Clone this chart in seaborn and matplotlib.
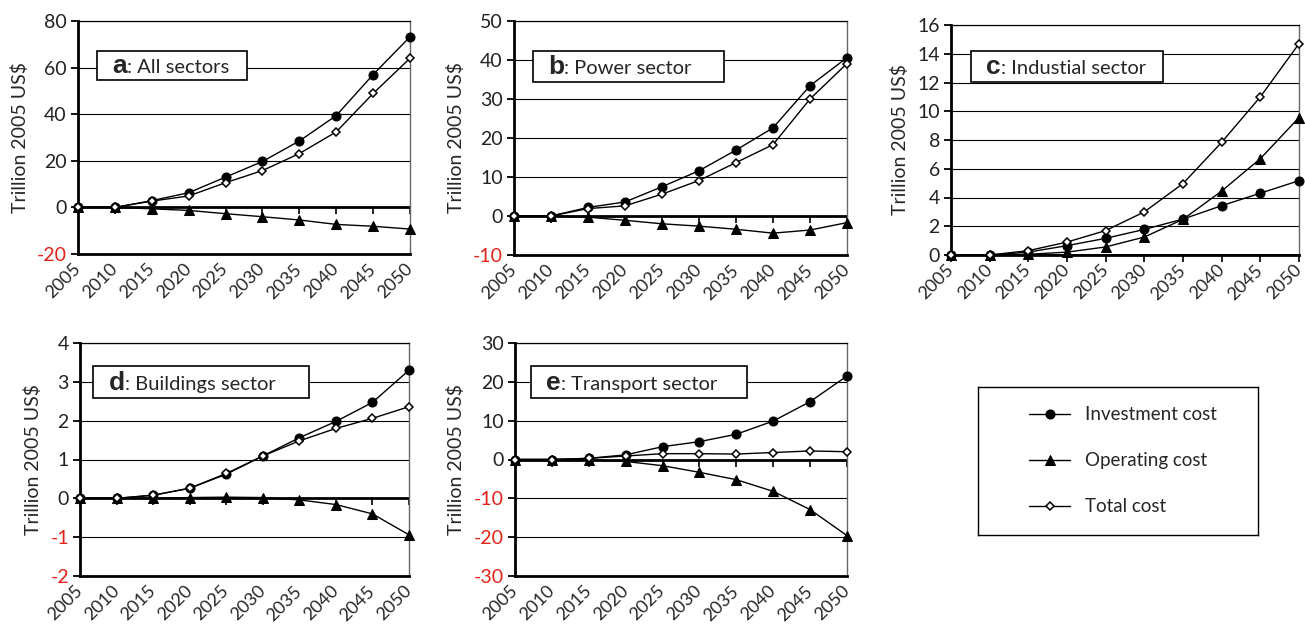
import numpy as np
import pandas as pd
import matplotlib
matplotlib.use("Agg")
import matplotlib.pyplot as plt
import seaborn as sns
from matplotlib.patches import Rectangle

sns.set_theme(style="white")
plt.rcParams['font.family'] = ['Lato', 'DejaVu Sans']

years = [2005, 2010, 2015, 2020, 2025, 2030, 2035, 2040, 2045, 2050]

# All sectors
all_invest = [0, 0, 2.9, 6.3, 13.0, 19.7, 28.5, 39.4, 57.0, 73.2]
all_operate = [0, 0, -0.6, -1.3, -2.7, -4.0, -5.4, -7.3, -8.1, -9.3]
all_total = [0, 0, 2.7, 4.9, 10.6, 15.8, 23.1, 32.4, 48.9, 64.0]

# Power sector
pow_invest = [0, 0, 2.2, 3.6, 7.5, 11.6, 16.9, 22.6, 33.4, 40.6]
pow_operate = [0, 0, -0.3, -1.1, -2.0, -2.6, -3.4, -4.4, -3.6, -1.7]
pow_total = [0, 0, 1.9, 2.6, 5.6, 9.1, 13.7, 18.3, 30.0, 39.1]

# Industrial sector
ind_invest = [0, 0, 0.2, 0.65, 1.16, 1.78, 2.5, 3.43, 4.3, 5.17]
ind_operate = [0, 0, 0.05, 0.2, 0.56, 1.25, 2.48, 4.45, 6.7, 9.56]
ind_total = [0, 0, 0.3, 0.9, 1.7, 3.0, 4.97, 7.84, 11.0, 14.7]

# Buildings sector
bld_invest = [0, 0, 0.08, 0.26, 0.62, 1.09, 1.56, 1.98, 2.47, 3.3]
bld_operate = [0, 0, 0.0, 0.02, 0.03, 0.02, -0.04, -0.16, -0.4, -0.94]
bld_total = [0, 0, 0.08, 0.26, 0.64, 1.09, 1.48, 1.8, 2.06, 2.36]

# Transport sector
trn_invest = [0, 0, 0.3, 1.2, 3.3, 4.6, 6.5, 9.9, 14.9, 21.5]
trn_operate = [0, 0, -0.1, -0.5, -1.6, -3.3, -5.2, -8.2, -12.9, -19.6]
trn_total = [0, 0, 0.3, 0.9, 1.5, 1.5, 1.4, 1.8, 2.2, 2.0]

series_labels = ["Investment cost", "Operating cost", "Total cost"]

W, H = 1305, 626
fig = plt.figure(figsize=(W / 100, H / 100), dpi=100)


def rect_px(left, top, right, bottom):
    return [left / W, (H - bottom) / H, (right - left) / W, (bottom - top) / H]


panels = [
    dict(rect=rect_px(78, 21, 410, 254), letter="a", title=": All sectors",
         data=(all_invest, all_operate, all_total), yticks=np.arange(-20, 81, 20),
         box=(0.057, 0.747, 0.509, 0.871)),
    dict(rect=rect_px(514, 21, 847, 255), letter="b", title=": Power sector",
         data=(pow_invest, pow_operate, pow_total), yticks=np.arange(-10, 51, 10),
         box=(0.057, 0.739, 0.630, 0.872)),
    dict(rect=rect_px(951, 25, 1299, 255), letter="c", title=": Industial sector",
         data=(ind_invest, ind_operate, ind_total), yticks=np.arange(0, 17, 2),
         box=(0.057, 0.752, 0.609, 0.887)),
    dict(rect=rect_px(80, 343, 409, 576), letter="d", title=": Buildings sector",
         data=(bld_invest, bld_operate, bld_total), yticks=np.arange(-2, 5, 1),
         box=(0.040, 0.765, 0.696, 0.900)),
    dict(rect=rect_px(515, 343, 847, 576), letter="e", title=": Transport sector",
         data=(trn_invest, trn_operate, trn_total), yticks=np.arange(-30, 31, 10),
         box=(0.048, 0.765, 0.700, 0.900)),
]

marker_styles = [
    dict(marker="o", markersize=6.5, markerfacecolor="black", markeredgecolor="black"),
    dict(marker="^", markersize=7, markerfacecolor="black", markeredgecolor="black"),
    dict(marker="D", markersize=4.5, markerfacecolor="white", markeredgecolor="black",
         markeredgewidth=1.1),
]

legend_handles = None
for p in panels:
    ax = fig.add_axes(p["rect"])
    ax.set_axisbelow(True)
    yt = p["yticks"]
    ax.set_xlim(years[0], years[-1])
    ax.set_ylim(yt[0], yt[-1])

    # horizontal gridlines
    ax.set_yticks(yt)
    ax.yaxis.grid(True, color="black", lw=0.8)
    ax.xaxis.grid(False)

    # zero line with downward category ticks
    ax.axhline(0, color="black", lw=2, zorder=2)
    ax.plot(years, np.zeros(len(years)), ls="none", marker=3, ms=5, mew=1.2,
            color="black", zorder=2, clip_on=False)

    for vals, lab, ms in zip(p["data"], series_labels, marker_styles):
        sns.lineplot(x=years, y=vals, ax=ax, color="black", lw=1, label=lab,
                     clip_on=False, zorder=5, **ms)
    handles, _ = ax.get_legend_handles_labels()
    if legend_handles is None:
        legend_handles = handles
    ax.get_legend().remove()

    ax.set_xticks(years)
    ax.set_xticklabels([str(y) for y in years], rotation=45, ha="right",
                       va="center", rotation_mode="anchor", fontsize=13)
    ax.tick_params(axis="x", length=0, pad=9)
    ax.tick_params(axis="y", direction="out", length=5, width=1.3, left=True,
                   labelsize=14, pad=3, colors="black")
    ax.set_yticklabels([f"{v:g}" for v in yt])
    for lbl, v in zip(ax.get_yticklabels(), yt):
        lbl.set_color("#e2231a" if v < 0 else "#222222")
    ax.set_ylabel("Trillion 2005 US$", fontsize=14, labelpad=6)
    ax.set_xlabel("")

    for side in ("left", "bottom"):
        ax.spines[side].set_color("black")
        ax.spines[side].set_linewidth(2)
    ax.spines["top"].set_color("black")
    ax.spines["top"].set_linewidth(0.9)
    ax.spines["right"].set_color("#666666")
    ax.spines["right"].set_linewidth(1)

    # panel title box
    x0, y0, x1, y1 = p["box"]
    ax.add_patch(Rectangle((x0, y0), x1 - x0, y1 - y0, transform=ax.transAxes,
                           facecolor="white", edgecolor="black", lw=1.2, zorder=3))
    yc = (y0 + y1) / 2
    letter = ax.annotate(p["letter"], xy=(x0, yc), xycoords="axes fraction",
                         xytext=(11, -5.5), textcoords="offset points",
                         fontsize=19, fontweight="bold", family="Liberation Sans",
                         va="baseline", ha="left", zorder=4)
    ax.annotate(p["title"], xy=(1, yc), xycoords=(letter, "axes fraction"),
                xytext=(0, -5.5), textcoords="offset points", fontsize=14.5,
                va="baseline", ha="left", zorder=4)

# legend panel
lax = fig.add_axes(rect_px(978, 387, 1258, 535))
lax.set_xticks([])
lax.set_yticks([])
for s in lax.spines.values():
    s.set_visible(True)
    s.set_color("black")
    s.set_linewidth(1)
lax.legend(legend_handles, series_labels, loc="upper left",
           bbox_to_anchor=(0.182, 0.87), frameon=False, fontsize=13.5,
           borderpad=0, borderaxespad=0, handlelength=2.2, handletextpad=0.8,
           labelspacing=1.55)

fig.savefig("out.png", dpi=100)
